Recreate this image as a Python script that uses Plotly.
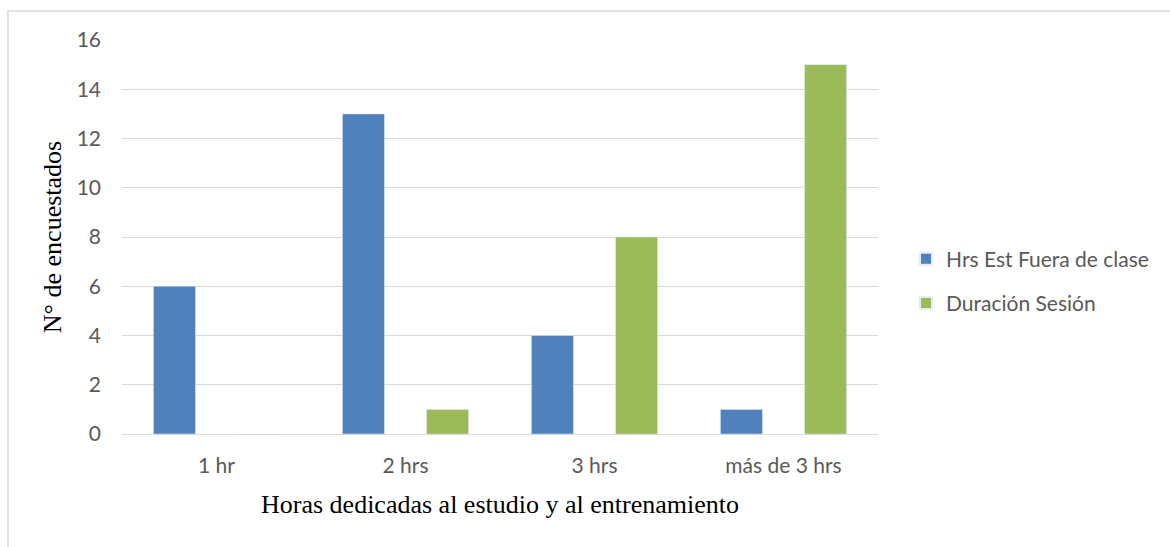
import plotly.graph_objects as go

categories = ["1 hr", "2 hrs", "3 hrs", "más de 3 hrs"]
hrs_est = [6, 13, 4, 1]
duracion = [0, 1, 8, 15]
series_names = ["Hrs Est Fuera de clase", "Duración Sesión"]
y_ticks = [0, 2, 4, 6, 8, 10, 12, 14, 16]

W, H = 1170, 547
L, R, T, B = 122, 292, 40, 113
pw, ph = W - L - R, H - T - B

fig = go.Figure()
fig.add_trace(go.Bar(x=categories, y=hrs_est, name=series_names[0], marker_color="#4f81bd",
                     legendgroup="a"))
fig.add_trace(go.Bar(x=categories, y=duracion, name=series_names[1], marker_color="#9bbb59",
                     legendgroup="b"))

tick_font = dict(family="Lato, Open Sans, sans-serif", size=21, color="#595959")
title_font = dict(family="Liberation Serif, Times New Roman, serif", size=26, color="#000000")

fig.update_layout(
    width=W, height=H,
    margin=dict(l=L, r=R, t=T, b=B, pad=0),
    paper_bgcolor="white", plot_bgcolor="white",
    barmode="group", bargap=0.11, bargroupgap=0.5,
    showlegend=True,
    legend=dict(x=(906 - L) / pw, y=(434 - 281) / ph, xanchor="left", yanchor="middle",
                font=dict(family="Lato, Open Sans, sans-serif", size=21, color="#595959"),
                tracegroupgap=14, itemsizing="constant", traceorder="grouped",
                itemwidth=30),
    xaxis=dict(showgrid=False, showline=True, linecolor="#d9d9d9", linewidth=1,
               ticks="", tickfont=tick_font, ticklabelstandoff=13,
               title=dict(text="Horas dedicadas al estudio y al entrenamiento",
                          font=title_font, standoff=18)),
    yaxis=dict(range=[0, 16], tickvals=y_ticks, showgrid=True, gridcolor="#d9d9d9",
               gridwidth=1, zeroline=False, showline=False, ticks="",
               tickfont=tick_font, ticklabelstandoff=20,
               title=dict(text="N° de encuestados", font=title_font, standoff=7)),
    shapes=[dict(type="rect", xref="paper", yref="paper",
                 x0=(8 - L) / pw, x1=(1180 - L) / pw,
                 y0=(434 - 560) / ph, y1=(434 - 11) / ph,
                 line=dict(color="#d9d9d9", width=1.5), fillcolor="rgba(0,0,0,0)",
                 layer="below")],
)

fig.write_html("out.html")
